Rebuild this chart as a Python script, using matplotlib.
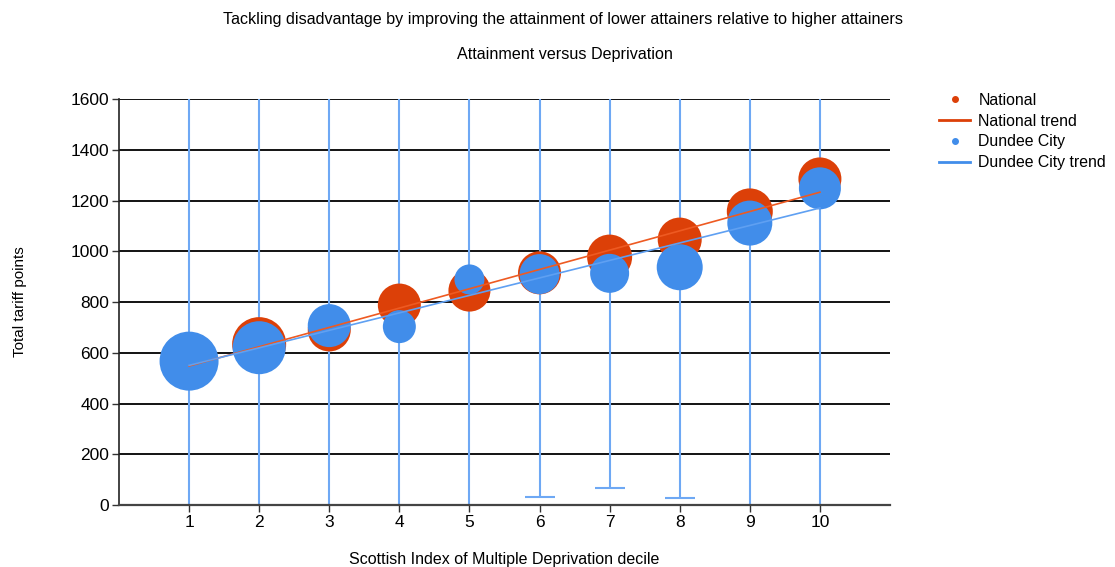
import matplotlib
matplotlib.use("Agg")
import matplotlib.pyplot as plt
from matplotlib.lines import Line2D
import numpy as np

plt.rcParams['font.family'] = ['Liberation Sans', 'DejaVu Sans']

deciles = [1, 2, 3, 4, 5, 6, 7, 8, 9, 10]
national = [565, 634, 690, 788, 845, 915, 977, 1046, 1157, 1285]
dundee = [567, 620, 707, 703, 889, 910, 913, 937, 1111, 1248]
# relative bubble sizes (diameter units)
national_size = [52, 54, 43, 43, 42, 43, 45, 44, 46, 43]
dundee_size = [59, 53, 43, 33, 30, 40, 39, 46, 45, 42]
# Dundee City interval ends (upper ends lie above the visible range)
dundee_low = [-100, -100, -100, -100, -100, 33, 68, 26, -100, -100]
dundee_high = [1800, 1800, 1800, 1800, 1800, 1800, 1800, 1800, 1800, 1800]

title1 = "Tackling disadvantage by improving the attainment of lower attainers relative to higher attainers"
title2 = "Attainment versus Deprivation"
xlabel = "Scottish Index of Multiple Deprivation decile"
ylabel = "Total tariff points"

c_nat = "#DC4008"
c_dun = "#418DEA"
c_nat_tr = "#EE5A22"
c_dun_tr = "#5FA0F2"
c_err = "#6EA8F4"

fig = plt.figure(figsize=(11.15, 5.67), dpi=100)
ax = fig.add_axes([0.1067, 0.1093, 0.6915, 0.7161])

x = np.array(deciles, dtype=float)
nat = np.array(national, dtype=float)
dun = np.array(dundee, dtype=float)

# error bars for Dundee City
lo = dun - np.array(dundee_low)
hi = np.array(dundee_high) - dun
ax.errorbar(x, dun, yerr=[lo, hi], fmt='none', ecolor=c_err, elinewidth=1.5,
            capsize=10.5, capthick=1.5, zorder=2)

px = 0.72  # points per pixel at 100 dpi
ax.scatter(x, nat, s=(np.array(national_size) * px) ** 2, color=c_nat,
           linewidths=0, zorder=3)
ax.scatter(x, dun, s=(np.array(dundee_size) * px) ** 2, color=c_dun,
           linewidths=0, zorder=4)

# trend lines
pn = np.polyfit(x, nat, 1)
pd_ = np.polyfit(x, dun, 1)
xt = np.array([x.min(), x.max()])
ax.plot(xt, np.polyval(pn, xt), color=c_nat_tr, lw=1.2, zorder=5)
ax.plot(xt, np.polyval(pd_, xt), color=c_dun_tr, lw=1.2, zorder=5)

ax.set_xlim(0, 11)
ax.set_ylim(0, 1600)
ax.set_xticks(deciles)
ax.set_yticks(np.arange(0, 1601, 200))
ax.tick_params(axis='both', labelsize=12.5, length=5, width=1, color='#333333',
               direction='out', pad=2)
ax.yaxis.grid(True, color='black', lw=1.3, zorder=0)
ax.set_axisbelow(True)
for s in ['top', 'right']:
    ax.spines[s].set_visible(False)
ax.spines['left'].set_color('#222222')
ax.spines['left'].set_linewidth(1.2)
ax.spines['bottom'].set_color('#444444')
ax.spines['bottom'].set_linewidth(1.6)

ax.set_xlabel(xlabel, fontsize=11.5, labelpad=16)
fig.text(20 / 1115, 1 - 302 / 567, ylabel, rotation=90, ha='center',
         va='center', fontsize=11)

fig.text(0.505, 0.966, title1, ha='center', va='center', fontsize=11.6)
fig.text(0.507, 0.903, title2, ha='center', va='center', fontsize=11.6)

handles = [
    Line2D([], [], marker='o', ls='none', color=c_nat, markersize=4),
    Line2D([], [], color=c_nat, lw=2),
    Line2D([], [], marker='o', ls='none', color=c_dun, markersize=4),
    Line2D([], [], color=c_dun, lw=2),
]
labels = ["National", "National trend", "Dundee City", "Dundee City trend"]
fig.legend(handles, labels, loc='upper left', bbox_to_anchor=(0.842, 0.836),
           frameon=False, fontsize=11.4, handlelength=2.0, labelspacing=0.36,
           handletextpad=0.5, borderaxespad=0, borderpad=0)

fig.savefig("out.png", dpi=100)
